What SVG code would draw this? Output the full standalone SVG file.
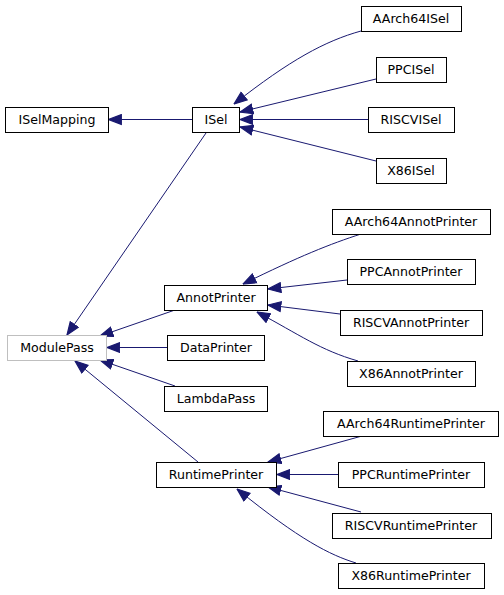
<svg xmlns="http://www.w3.org/2000/svg" width="504" height="595" viewBox="0 0 504 595">
<defs>
<style>
.n rect{fill:#fff;stroke:#000;stroke-width:1}
.n.g rect{stroke:#bfbfbf}
.n text{font-family:"DejaVu Sans","Liberation Sans",sans-serif;font-size:12.6px;fill:#000;text-anchor:middle}
.e path{fill:none;stroke:#191970;stroke-width:1;marker-end:url(#ah)}
</style>
<marker id="ah" markerUnits="userSpaceOnUse" markerWidth="14" markerHeight="12" viewBox="0 0 12 10" refX="11.5" refY="5" orient="auto">
<path d="M0.5,0.8 L11.5,5 L0.5,9.2 z" fill="#191970" stroke="#191970" stroke-width="1"/>
</marker>
</defs>
<rect width="504" height="595" fill="#fff"/>
<g id="edges" class="e">
<path d="M192,119.5 L108.5,119.5"/>
<path d="M361,31 C325,41 290,60 234,104"/>
<path d="M376,79 L240,112"/>
<path d="M368,119.5 L240,119.5"/>
<path d="M376,161 L240,127"/>
<path d="M206,133 L67,335"/>
<path d="M175,310 L100,336"/>
<path d="M167,347.5 L107,347.5"/>
<path d="M175,386 L100,360"/>
<path d="M198,462 L75,361"/>
<path d="M361,234 C330,244 300,256 243,284"/>
<path d="M347,280 L268,289"/>
<path d="M340,314 L268,305"/>
<path d="M358,361 C320,350 300,335 257,312"/>
<path d="M362,436 L268,462"/>
<path d="M338,474.5 L277,474.5"/>
<path d="M361,512 L268,487"/>
<path d="M356,563 C330,555 300,540 237,489"/>
</g>
<g id="ISelMapping" class="n"><rect x="5.5" y="107.5" width="103" height="25"/><text x="57" y="124">ISelMapping</text></g>
<g id="ISel" class="n"><rect x="192.5" y="107.5" width="47" height="25"/><text x="216" y="124">ISel</text></g>
<g id="AArch64ISel" class="n"><rect x="361.5" y="6.5" width="100" height="25"/><text x="411" y="23">AArch64ISel</text></g>
<g id="PPCISel" class="n"><rect x="376.5" y="57.5" width="70" height="25"/><text x="411" y="74">PPCISel</text></g>
<g id="RISCVISel" class="n"><rect x="368.5" y="107.5" width="86" height="25"/><text x="411" y="124">RISCVISel</text></g>
<g id="X86ISel" class="n"><rect x="376.5" y="158.5" width="70" height="25"/><text x="411" y="175">X86ISel</text></g>
<g id="ModulePass" class="n g"><rect x="7.5" y="335.5" width="99" height="25"/><text x="57" y="352">ModulePass</text></g>
<g id="AnnotPrinter" class="n"><rect x="164.5" y="285.5" width="103" height="25"/><text x="216" y="302">AnnotPrinter</text></g>
<g id="DataPrinter" class="n"><rect x="167.5" y="335.5" width="97" height="25"/><text x="216" y="352">DataPrinter</text></g>
<g id="LambdaPass" class="n"><rect x="164.5" y="386.5" width="103" height="25"/><text x="216" y="403">LambdaPass</text></g>
<g id="RuntimePrinter" class="n"><rect x="156.5" y="462.5" width="120" height="25"/><text x="216" y="479">RuntimePrinter</text></g>
<g id="AArch64AnnotPrinter" class="n"><rect x="332.5" y="209.5" width="158" height="25"/><text x="411" y="226">AArch64AnnotPrinter</text></g>
<g id="PPCAnnotPrinter" class="n"><rect x="347.5" y="259.5" width="128" height="25"/><text x="411" y="276">PPCAnnotPrinter</text></g>
<g id="RISCVAnnotPrinter" class="n"><rect x="340.5" y="310.5" width="142" height="25"/><text x="411" y="327">RISCVAnnotPrinter</text></g>
<g id="X86AnnotPrinter" class="n"><rect x="347.5" y="361.5" width="128" height="25"/><text x="411" y="378">X86AnnotPrinter</text></g>
<g id="AArch64RuntimePrinter" class="n"><rect x="323.5" y="411.5" width="175" height="25"/><text x="411" y="428">AArch64RuntimePrinter</text></g>
<g id="PPCRuntimePrinter" class="n"><rect x="338.5" y="462.5" width="146" height="25"/><text x="411" y="479">PPCRuntimePrinter</text></g>
<g id="RISCVRuntimePrinter" class="n"><rect x="332.5" y="513.5" width="159" height="25"/><text x="411" y="530">RISCVRuntimePrinter</text></g>
<g id="X86RuntimePrinter" class="n"><rect x="338.5" y="563.5" width="146" height="25"/><text x="411" y="580">X86RuntimePrinter</text></g>
</svg>
